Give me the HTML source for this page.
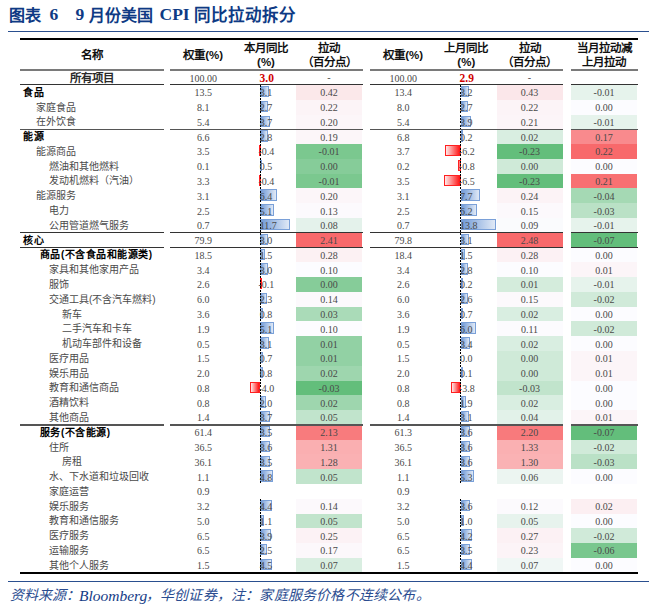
<!DOCTYPE html>
<html lang="zh-CN"><head><meta charset="utf-8"><style>
html,body{margin:0;padding:0;background:#fff;width:660px;height:606px;overflow:hidden}
body{position:relative}
div{position:absolute;box-sizing:border-box}
.t{white-space:nowrap}
.nm{font-family:"Liberation Sans",sans-serif;font-size:10px;color:#4a4a4a;line-height:14px}
.nb{font-weight:bold;color:#000;letter-spacing:0.5px}
.num{font-family:"Liberation Serif",serif;font-size:10px;color:#4a4a4a;line-height:14px;text-align:center;width:80px}
.numl{font-family:"Liberation Serif",serif;font-size:10px;color:#4a4a4a;line-height:14px}
.hd{font-family:"Liberation Sans",sans-serif;font-weight:bold;font-size:11.5px;color:#111;line-height:14.4px;text-align:center;width:100px}
.bar{border:1px solid #7aa0d8}
.nbar{border:1px solid #ff2020}
.ax{width:1px;background:repeating-linear-gradient(to bottom,#000 0,#000 2px,transparent 2px,transparent 3.3px)}
.tt{font-family:"Liberation Serif",serif;font-weight:bold;line-height:20px;color:#0e3a84}
</style></head><body>

<div class="tt t" style="left:9px;top:5.5px;font-size:16px">图表</div>
<div class="tt t" style="left:49.5px;top:4px;font-size:17.5px">6</div>
<div class="tt t" style="left:75.5px;top:4px;font-size:17.5px">9</div>
<div class="tt t" style="left:88.5px;top:5.5px;font-size:16px">月份美国</div>
<div class="tt t" style="left:159.5px;top:4px;font-size:17.5px">CPI</div>
<div class="tt t" style="left:193.5px;top:5.5px;font-size:16.5px">同比拉动拆分</div>
<div style="left:8px;top:31px;width:641px;height:1px;background:#2a4f8f"></div>
<div style="left:20px;top:38px;width:618px;height:2px;background:#000"></div>
<div class="hd t" style="left:42.00px;top:47.50px">名称</div>
<div class="hd t" style="left:153.20px;top:47.50px">权重(%)</div>
<div class="hd t" style="left:216.00px;top:40.50px">本月同比<br>(%)</div>
<div class="hd t" style="left:279.00px;top:40.50px">拉动<br>（百分点）</div>
<div class="hd t" style="left:353.20px;top:47.50px">权重(%)</div>
<div class="hd t" style="left:416.30px;top:40.50px">上月同比<br>(%)</div>
<div class="hd t" style="left:479.50px;top:40.50px">拉动<br>（百分点）</div>
<div class="hd t" style="left:554.00px;top:40.50px">当月拉动减<br>上月拉动</div>
<div style="left:296px;top:85px;width:66px;height:15px;background:#fbe8ea"></div>
<div style="left:496.5px;top:85px;width:66.5px;height:15px;background:#fbe7ea"></div>
<div style="left:571px;top:85px;width:66px;height:15px;background:#e6f3ec"></div>
<div style="left:296px;top:100px;width:66px;height:15px;background:#fcf4f7"></div>
<div style="left:496.5px;top:100px;width:66.5px;height:15px;background:#fcf4f7"></div>
<div style="left:571px;top:100px;width:66px;height:15px;background:#fcfcff"></div>
<div style="left:296px;top:115px;width:66px;height:14px;background:#fcf6f9"></div>
<div style="left:496.5px;top:115px;width:66.5px;height:14px;background:#fcf5f8"></div>
<div style="left:571px;top:115px;width:66px;height:14px;background:#e6f3ec"></div>
<div style="left:296px;top:129px;width:66px;height:15px;background:#fcf6f9"></div>
<div style="left:496.5px;top:129px;width:66.5px;height:15px;background:#d9eee1"></div>
<div style="left:571px;top:129px;width:66px;height:15px;background:#f98a8d"></div>
<div style="left:296px;top:144px;width:66px;height:15px;background:#7bc88f"></div>
<div style="left:496.5px;top:144px;width:66.5px;height:15px;background:#63be7b"></div>
<div style="left:571px;top:144px;width:66px;height:15px;background:#f8696b"></div>
<div style="left:296px;top:159px;width:66px;height:15px;background:#86cc99"></div>
<div style="left:496.5px;top:159px;width:66.5px;height:15px;background:#cfead8"></div>
<div style="left:571px;top:159px;width:66px;height:15px;background:#fcfcff"></div>
<div style="left:296px;top:174px;width:66px;height:14px;background:#7bc88f"></div>
<div style="left:496.5px;top:174px;width:66.5px;height:14px;background:#63be7b"></div>
<div style="left:571px;top:174px;width:66px;height:14px;background:#f87072"></div>
<div style="left:296px;top:188px;width:66px;height:15px;background:#fcf6f9"></div>
<div style="left:496.5px;top:188px;width:66.5px;height:15px;background:#fcf3f6"></div>
<div style="left:571px;top:188px;width:66px;height:15px;background:#a5d9b4"></div>
<div style="left:296px;top:203px;width:66px;height:15px;background:#fcfafd"></div>
<div style="left:496.5px;top:203px;width:66.5px;height:15px;background:#fcf9fc"></div>
<div style="left:571px;top:203px;width:66px;height:15px;background:#bae1c6"></div>
<div style="left:296px;top:218px;width:66px;height:15px;background:#e4f2eb"></div>
<div style="left:496.5px;top:218px;width:66.5px;height:15px;background:#fafbfd"></div>
<div style="left:571px;top:218px;width:66px;height:15px;background:#e6f3ec"></div>
<div style="left:296px;top:233px;width:66px;height:15px;background:#f8696b"></div>
<div style="left:496.5px;top:233px;width:66.5px;height:15px;background:#f8696b"></div>
<div style="left:571px;top:233px;width:66px;height:15px;background:#63be7b"></div>
<div style="left:296px;top:248px;width:66px;height:14px;background:#fcf1f3"></div>
<div style="left:496.5px;top:248px;width:66.5px;height:14px;background:#fcf1f4"></div>
<div style="left:571px;top:248px;width:66px;height:14px;background:#fcfcff"></div>
<div style="left:296px;top:262px;width:66px;height:15px;background:#fcfcff"></div>
<div style="left:496.5px;top:262px;width:66.5px;height:15px;background:#fcfcff"></div>
<div style="left:571px;top:262px;width:66px;height:15px;background:#fcf5f8"></div>
<div style="left:296px;top:277px;width:66px;height:15px;background:#86cc99"></div>
<div style="left:496.5px;top:277px;width:66.5px;height:15px;background:#d4ecdc"></div>
<div style="left:571px;top:277px;width:66px;height:15px;background:#e6f3ec"></div>
<div style="left:296px;top:292px;width:66px;height:15px;background:#fcf9fc"></div>
<div style="left:496.5px;top:292px;width:66.5px;height:15px;background:#fcf9fc"></div>
<div style="left:571px;top:292px;width:66px;height:15px;background:#d0ead9"></div>
<div style="left:296px;top:307px;width:66px;height:14px;background:#aadbb8"></div>
<div style="left:496.5px;top:307px;width:66.5px;height:14px;background:#d9eee1"></div>
<div style="left:571px;top:307px;width:66px;height:14px;background:#fcfcff"></div>
<div style="left:296px;top:321px;width:66px;height:15px;background:#fcfcff"></div>
<div style="left:496.5px;top:321px;width:66.5px;height:15px;background:#fcfbfe"></div>
<div style="left:571px;top:321px;width:66px;height:15px;background:#d0ead9"></div>
<div style="left:296px;top:336px;width:66px;height:15px;background:#92d1a4"></div>
<div style="left:496.5px;top:336px;width:66.5px;height:15px;background:#d9eee1"></div>
<div style="left:571px;top:336px;width:66px;height:15px;background:#fcfcff"></div>
<div style="left:296px;top:351px;width:66px;height:15px;background:#92d1a4"></div>
<div style="left:496.5px;top:351px;width:66.5px;height:15px;background:#cfead8"></div>
<div style="left:571px;top:351px;width:66px;height:15px;background:#fcf5f8"></div>
<div style="left:296px;top:366px;width:66px;height:15px;background:#9ed6ae"></div>
<div style="left:496.5px;top:366px;width:66.5px;height:15px;background:#cfead8"></div>
<div style="left:571px;top:366px;width:66px;height:15px;background:#fcf5f8"></div>
<div style="left:296px;top:381px;width:66px;height:14px;background:#63be7b"></div>
<div style="left:496.5px;top:381px;width:66.5px;height:14px;background:#c1e4cc"></div>
<div style="left:571px;top:381px;width:66px;height:14px;background:#fcfcff"></div>
<div style="left:296px;top:395px;width:66px;height:15px;background:#9ed6ae"></div>
<div style="left:496.5px;top:395px;width:66.5px;height:15px;background:#d9eee1"></div>
<div style="left:571px;top:395px;width:66px;height:15px;background:#fcfcff"></div>
<div style="left:296px;top:410px;width:66px;height:15px;background:#c1e4cc"></div>
<div style="left:496.5px;top:410px;width:66.5px;height:15px;background:#e2f2e9"></div>
<div style="left:571px;top:410px;width:66px;height:15px;background:#fcf5f8"></div>
<div style="left:296px;top:425px;width:66px;height:15px;background:#f87b7d"></div>
<div style="left:496.5px;top:425px;width:66.5px;height:15px;background:#f87a7c"></div>
<div style="left:571px;top:425px;width:66px;height:15px;background:#63be7b"></div>
<div style="left:296px;top:440px;width:66px;height:14px;background:#faafb1"></div>
<div style="left:496.5px;top:440px;width:66.5px;height:14px;background:#fab0b2"></div>
<div style="left:571px;top:440px;width:66px;height:14px;background:#d0ead9"></div>
<div style="left:296px;top:454px;width:66px;height:15px;background:#fab1b3"></div>
<div style="left:496.5px;top:454px;width:66.5px;height:15px;background:#fab2b4"></div>
<div style="left:571px;top:454px;width:66px;height:15px;background:#bae1c6"></div>
<div style="left:296px;top:469px;width:66px;height:15px;background:#c1e4cc"></div>
<div style="left:496.5px;top:469px;width:66.5px;height:15px;background:#ecf5f1"></div>
<div style="left:571px;top:469px;width:66px;height:15px;background:#fcfcff"></div>
<div style="left:296px;top:499px;width:66px;height:15px;background:#fcf9fc"></div>
<div style="left:496.5px;top:499px;width:66.5px;height:15px;background:#fcfafd"></div>
<div style="left:571px;top:499px;width:66px;height:15px;background:#fceff2"></div>
<div style="left:296px;top:514px;width:66px;height:14px;background:#c1e4cc"></div>
<div style="left:496.5px;top:514px;width:66.5px;height:14px;background:#e7f3ed"></div>
<div style="left:571px;top:514px;width:66px;height:14px;background:#fcfcff"></div>
<div style="left:296px;top:528px;width:66px;height:15px;background:#fcf2f5"></div>
<div style="left:496.5px;top:528px;width:66.5px;height:15px;background:#fcf1f4"></div>
<div style="left:571px;top:528px;width:66px;height:15px;background:#d0ead9"></div>
<div style="left:296px;top:543px;width:66px;height:15px;background:#fcf8fb"></div>
<div style="left:496.5px;top:543px;width:66.5px;height:15px;background:#fcf4f7"></div>
<div style="left:571px;top:543px;width:66px;height:15px;background:#79c78e"></div>
<div style="left:296px;top:558px;width:66px;height:15px;background:#d9eee1"></div>
<div style="left:496.5px;top:558px;width:66.5px;height:15px;background:#f0f7f5"></div>
<div style="left:571px;top:558px;width:66px;height:15px;background:#fcfcff"></div>
<div class="bar" style="left:260.30px;top:86.00px;width:8.25px;height:11.30px;background:linear-gradient(to right,#729bd7,#e0e9f6)"></div>
<div class="bar" style="left:460.60px;top:86.00px;width:8.50px;height:11.30px;background:linear-gradient(to right,#729bd7,#e0e9f6)"></div>
<div class="bar" style="left:260.30px;top:100.78px;width:7.25px;height:11.30px;background:linear-gradient(to right,#729bd7,#e0e9f6)"></div>
<div class="bar" style="left:460.60px;top:100.78px;width:7.25px;height:11.30px;background:linear-gradient(to right,#729bd7,#e0e9f6)"></div>
<div class="bar" style="left:260.30px;top:115.56px;width:9.75px;height:11.30px;background:linear-gradient(to right,#729bd7,#e0e9f6)"></div>
<div class="bar" style="left:460.60px;top:115.56px;width:10.25px;height:11.30px;background:linear-gradient(to right,#729bd7,#e0e9f6)"></div>
<div class="bar" style="left:260.30px;top:130.34px;width:7.50px;height:11.30px;background:linear-gradient(to right,#729bd7,#e0e9f6)"></div>
<div class="bar" style="left:460.60px;top:130.34px;width:1.00px;height:11.30px;background:linear-gradient(to right,#729bd7,#e0e9f6)"></div>
<div class="nbar" style="left:258.80px;top:145.12px;width:1.50px;height:11.30px;background:linear-gradient(to left,#ff1010,#ffe8e8)"></div>
<div class="nbar" style="left:444.60px;top:145.12px;width:16.00px;height:11.30px;background:linear-gradient(to left,#ff1010,#ffe8e8)"></div>
<div class="bar" style="left:260.30px;top:159.90px;width:1.75px;height:11.30px;background:linear-gradient(to right,#729bd7,#e0e9f6)"></div>
<div class="nbar" style="left:458.10px;top:159.90px;width:2.50px;height:11.30px;background:linear-gradient(to left,#ff1010,#ffe8e8)"></div>
<div class="nbar" style="left:258.80px;top:174.68px;width:1.50px;height:11.30px;background:linear-gradient(to left,#ff1010,#ffe8e8)"></div>
<div class="nbar" style="left:443.85px;top:174.68px;width:16.75px;height:11.30px;background:linear-gradient(to left,#ff1010,#ffe8e8)"></div>
<div class="bar" style="left:260.30px;top:189.46px;width:16.50px;height:11.30px;background:linear-gradient(to right,#729bd7,#e0e9f6)"></div>
<div class="bar" style="left:460.60px;top:189.46px;width:19.75px;height:11.30px;background:linear-gradient(to right,#729bd7,#e0e9f6)"></div>
<div class="bar" style="left:260.30px;top:204.24px;width:13.25px;height:11.30px;background:linear-gradient(to right,#729bd7,#e0e9f6)"></div>
<div class="bar" style="left:460.60px;top:204.24px;width:16.00px;height:11.30px;background:linear-gradient(to right,#729bd7,#e0e9f6)"></div>
<div class="bar" style="left:260.30px;top:219.02px;width:29.75px;height:11.30px;background:linear-gradient(to right,#729bd7,#e0e9f6)"></div>
<div class="bar" style="left:460.60px;top:219.02px;width:35.00px;height:11.30px;background:linear-gradient(to right,#729bd7,#e0e9f6)"></div>
<div class="bar" style="left:260.30px;top:233.80px;width:8.00px;height:11.30px;background:linear-gradient(to right,#729bd7,#e0e9f6)"></div>
<div class="bar" style="left:460.60px;top:233.80px;width:8.25px;height:11.30px;background:linear-gradient(to right,#729bd7,#e0e9f6)"></div>
<div class="bar" style="left:260.30px;top:248.58px;width:4.25px;height:11.30px;background:linear-gradient(to right,#729bd7,#e0e9f6)"></div>
<div class="bar" style="left:460.60px;top:248.58px;width:4.25px;height:11.30px;background:linear-gradient(to right,#729bd7,#e0e9f6)"></div>
<div class="bar" style="left:260.30px;top:263.36px;width:8.00px;height:11.30px;background:linear-gradient(to right,#729bd7,#e0e9f6)"></div>
<div class="bar" style="left:460.60px;top:263.36px;width:7.50px;height:11.30px;background:linear-gradient(to right,#729bd7,#e0e9f6)"></div>
<div class="nbar" style="left:259.55px;top:278.14px;width:1.00px;height:11.30px;background:linear-gradient(to left,#ff1010,#ffe8e8)"></div>
<div class="bar" style="left:460.60px;top:278.14px;width:1.00px;height:11.30px;background:linear-gradient(to right,#729bd7,#e0e9f6)"></div>
<div class="bar" style="left:260.30px;top:292.92px;width:6.25px;height:11.30px;background:linear-gradient(to right,#729bd7,#e0e9f6)"></div>
<div class="bar" style="left:460.60px;top:292.92px;width:7.00px;height:11.30px;background:linear-gradient(to right,#729bd7,#e0e9f6)"></div>
<div class="bar" style="left:260.30px;top:307.70px;width:2.50px;height:11.30px;background:linear-gradient(to right,#729bd7,#e0e9f6)"></div>
<div class="bar" style="left:460.60px;top:307.70px;width:2.25px;height:11.30px;background:linear-gradient(to right,#729bd7,#e0e9f6)"></div>
<div class="bar" style="left:260.30px;top:322.48px;width:13.25px;height:11.30px;background:linear-gradient(to right,#729bd7,#e0e9f6)"></div>
<div class="bar" style="left:460.60px;top:322.48px;width:15.50px;height:11.30px;background:linear-gradient(to right,#729bd7,#e0e9f6)"></div>
<div class="bar" style="left:260.30px;top:337.26px;width:8.25px;height:11.30px;background:linear-gradient(to right,#729bd7,#e0e9f6)"></div>
<div class="bar" style="left:460.60px;top:337.26px;width:9.00px;height:11.30px;background:linear-gradient(to right,#729bd7,#e0e9f6)"></div>
<div class="bar" style="left:260.30px;top:352.04px;width:2.25px;height:11.30px;background:linear-gradient(to right,#729bd7,#e0e9f6)"></div>
<div class="bar" style="left:260.30px;top:366.82px;width:2.50px;height:11.30px;background:linear-gradient(to right,#729bd7,#e0e9f6)"></div>
<div class="bar" style="left:460.60px;top:366.82px;width:1.00px;height:11.30px;background:linear-gradient(to right,#729bd7,#e0e9f6)"></div>
<div class="nbar" style="left:249.80px;top:381.60px;width:10.50px;height:11.30px;background:linear-gradient(to left,#ff1010,#ffe8e8)"></div>
<div class="nbar" style="left:450.60px;top:381.60px;width:10.00px;height:11.30px;background:linear-gradient(to left,#ff1010,#ffe8e8)"></div>
<div class="bar" style="left:260.30px;top:396.38px;width:5.50px;height:11.30px;background:linear-gradient(to right,#729bd7,#e0e9f6)"></div>
<div class="bar" style="left:460.60px;top:396.38px;width:5.25px;height:11.30px;background:linear-gradient(to right,#729bd7,#e0e9f6)"></div>
<div class="bar" style="left:260.30px;top:411.16px;width:9.75px;height:11.30px;background:linear-gradient(to right,#729bd7,#e0e9f6)"></div>
<div class="bar" style="left:460.60px;top:411.16px;width:8.25px;height:11.30px;background:linear-gradient(to right,#729bd7,#e0e9f6)"></div>
<div class="bar" style="left:260.30px;top:425.94px;width:9.25px;height:11.30px;background:linear-gradient(to right,#729bd7,#e0e9f6)"></div>
<div class="bar" style="left:460.60px;top:425.94px;width:9.50px;height:11.30px;background:linear-gradient(to right,#729bd7,#e0e9f6)"></div>
<div class="bar" style="left:260.30px;top:440.72px;width:9.50px;height:11.30px;background:linear-gradient(to right,#729bd7,#e0e9f6)"></div>
<div class="bar" style="left:460.60px;top:440.72px;width:9.50px;height:11.30px;background:linear-gradient(to right,#729bd7,#e0e9f6)"></div>
<div class="bar" style="left:260.30px;top:455.50px;width:9.25px;height:11.30px;background:linear-gradient(to right,#729bd7,#e0e9f6)"></div>
<div class="bar" style="left:460.60px;top:455.50px;width:9.50px;height:11.30px;background:linear-gradient(to right,#729bd7,#e0e9f6)"></div>
<div class="bar" style="left:260.30px;top:470.28px;width:12.50px;height:11.30px;background:linear-gradient(to right,#729bd7,#e0e9f6)"></div>
<div class="bar" style="left:460.60px;top:470.28px;width:13.75px;height:11.30px;background:linear-gradient(to right,#729bd7,#e0e9f6)"></div>
<div class="bar" style="left:260.30px;top:499.84px;width:11.50px;height:11.30px;background:linear-gradient(to right,#729bd7,#e0e9f6)"></div>
<div class="bar" style="left:460.60px;top:499.84px;width:9.50px;height:11.30px;background:linear-gradient(to right,#729bd7,#e0e9f6)"></div>
<div class="bar" style="left:260.30px;top:514.62px;width:3.25px;height:11.30px;background:linear-gradient(to right,#729bd7,#e0e9f6)"></div>
<div class="bar" style="left:460.60px;top:514.62px;width:3.00px;height:11.30px;background:linear-gradient(to right,#729bd7,#e0e9f6)"></div>
<div class="bar" style="left:260.30px;top:529.40px;width:10.25px;height:11.30px;background:linear-gradient(to right,#729bd7,#e0e9f6)"></div>
<div class="bar" style="left:460.60px;top:529.40px;width:11.00px;height:11.30px;background:linear-gradient(to right,#729bd7,#e0e9f6)"></div>
<div class="bar" style="left:260.30px;top:544.18px;width:6.75px;height:11.30px;background:linear-gradient(to right,#729bd7,#e0e9f6)"></div>
<div class="bar" style="left:460.60px;top:544.18px;width:9.25px;height:11.30px;background:linear-gradient(to right,#729bd7,#e0e9f6)"></div>
<div class="bar" style="left:260.30px;top:558.96px;width:11.75px;height:11.30px;background:linear-gradient(to right,#729bd7,#e0e9f6)"></div>
<div class="bar" style="left:460.60px;top:558.96px;width:11.50px;height:11.30px;background:linear-gradient(to right,#729bd7,#e0e9f6)"></div>
<div class="ax" style="left:259.80px;top:85.00px;height:399.06px"></div>
<div class="ax" style="left:259.80px;top:498.84px;height:73.90px"></div>
<div class="ax" style="left:460.10px;top:85.00px;height:399.06px"></div>
<div class="ax" style="left:460.10px;top:498.84px;height:73.90px"></div>
<div style="left:20px;top:69px;width:144px;height:2px;background:#7a7a7a"></div>
<div style="left:169.5px;top:69px;width:193.0px;height:2px;background:#7a7a7a"></div>
<div style="left:370px;top:69px;width:193px;height:2px;background:#7a7a7a"></div>
<div style="left:571px;top:69px;width:67px;height:2px;background:#7a7a7a"></div>
<div style="left:20px;top:84px;width:144px;height:1px;background:#333"></div>
<div style="left:169.5px;top:84px;width:193.0px;height:1px;background:#333"></div>
<div style="left:370px;top:84px;width:193px;height:1px;background:#333"></div>
<div style="left:571px;top:84px;width:67px;height:1px;background:#333"></div>
<div style="left:20px;top:128.5px;width:144px;height:1.5px;background:#555"></div>
<div style="left:169.5px;top:128.5px;width:193.0px;height:1.5px;background:#555"></div>
<div style="left:370px;top:128.5px;width:193px;height:1.5px;background:#555"></div>
<div style="left:571px;top:128.5px;width:67px;height:1.5px;background:#555"></div>
<div style="left:20px;top:232.3px;width:144px;height:1px;background:#333"></div>
<div style="left:169.5px;top:232.3px;width:193.0px;height:1px;background:#333"></div>
<div style="left:370px;top:232.3px;width:193px;height:1px;background:#333"></div>
<div style="left:571px;top:232.3px;width:67px;height:1px;background:#333"></div>
<div style="left:20px;top:247.1px;width:144px;height:1px;background:#333"></div>
<div style="left:169.5px;top:247.1px;width:193.0px;height:1px;background:#333"></div>
<div style="left:370px;top:247.1px;width:193px;height:1px;background:#333"></div>
<div style="left:571px;top:247.1px;width:67px;height:1px;background:#333"></div>
<div style="left:20px;top:424.2px;width:144px;height:1.5px;background:#555"></div>
<div style="left:169.5px;top:424.2px;width:193.0px;height:1.5px;background:#555"></div>
<div style="left:370px;top:424.2px;width:193px;height:1.5px;background:#555"></div>
<div style="left:571px;top:424.2px;width:67px;height:1.5px;background:#555"></div>
<div style="left:20px;top:572px;width:618px;height:2px;background:#000"></div>
<div class="nm nb t" style="left:20px;top:70.80px;width:144px;text-align:center;font-size:11.5px;font-weight:bold;color:#2a2a2a;letter-spacing:0.2px">所有项目</div>
<div class="num t" style="left:163.20px;top:72.10px;">100.00</div>
<div class="num t" style="left:363.20px;top:72.10px;">100.00</div>
<div class="num t" style="left:226.70px;top:70.80px;font-weight:bold;color:#d00000;font-size:11.5px">3.0</div>
<div class="num t" style="left:426.70px;top:70.80px;font-weight:bold;color:#d00000;font-size:11.5px">2.9</div>
<div class="num t" style="left:289.00px;top:70.80px;">-</div>
<div class="num t" style="left:489.50px;top:70.80px;">-</div>
<div class="nm t nb" style="left:23.00px;top:85.80px">食品</div>
<div class="num t" style="left:163.20px;top:86.30px;">13.5</div>
<div class="num t" style="left:363.20px;top:86.30px;">13.4</div>
<div class="numl t" style="left:259.70px;top:86.30px">3.1</div>
<div class="numl t" style="left:460.00px;top:86.30px">3.2</div>
<div class="num t" style="left:289.00px;top:86.30px;">0.42</div>
<div class="num t" style="left:489.50px;top:86.30px;">0.43</div>
<div class="num t" style="left:564.00px;top:86.30px;">-0.01</div>
<div class="nm t" style="left:36.00px;top:100.58px">家庭食品</div>
<div class="num t" style="left:163.20px;top:101.08px;">8.1</div>
<div class="num t" style="left:363.20px;top:101.08px;">8.0</div>
<div class="numl t" style="left:259.70px;top:101.08px">2.7</div>
<div class="numl t" style="left:460.00px;top:101.08px">2.7</div>
<div class="num t" style="left:289.00px;top:101.08px;">0.22</div>
<div class="num t" style="left:489.50px;top:101.08px;">0.22</div>
<div class="num t" style="left:564.00px;top:101.08px;">0.00</div>
<div class="nm t" style="left:36.00px;top:115.36px">在外饮食</div>
<div class="num t" style="left:163.20px;top:115.86px;">5.4</div>
<div class="num t" style="left:363.20px;top:115.86px;">5.4</div>
<div class="numl t" style="left:259.70px;top:115.86px">3.7</div>
<div class="numl t" style="left:460.00px;top:115.86px">3.9</div>
<div class="num t" style="left:289.00px;top:115.86px;">0.20</div>
<div class="num t" style="left:489.50px;top:115.86px;">0.21</div>
<div class="num t" style="left:564.00px;top:115.86px;">-0.01</div>
<div class="nm t nb" style="left:23.00px;top:130.14px">能源</div>
<div class="num t" style="left:163.20px;top:130.64px;">6.6</div>
<div class="num t" style="left:363.20px;top:130.64px;">6.8</div>
<div class="numl t" style="left:259.70px;top:130.64px">2.8</div>
<div class="numl t" style="left:460.00px;top:130.64px">0.2</div>
<div class="num t" style="left:289.00px;top:130.64px;">0.19</div>
<div class="num t" style="left:489.50px;top:130.64px;">0.02</div>
<div class="num t" style="left:564.00px;top:130.64px;">0.17</div>
<div class="nm t" style="left:36.00px;top:144.92px">能源商品</div>
<div class="num t" style="left:163.20px;top:145.42px;">3.5</div>
<div class="num t" style="left:363.20px;top:145.42px;">3.7</div>
<div class="numl t" style="left:258.50px;top:145.42px">-0.4</div>
<div class="numl t" style="left:458.80px;top:145.42px">-6.2</div>
<div class="num t" style="left:289.00px;top:145.42px;">-0.01</div>
<div class="num t" style="left:489.50px;top:145.42px;">-0.23</div>
<div class="num t" style="left:564.00px;top:145.42px;">0.22</div>
<div class="nm t" style="left:49.00px;top:159.70px">燃油和其他燃料</div>
<div class="num t" style="left:163.20px;top:160.20px;">0.1</div>
<div class="num t" style="left:363.20px;top:160.20px;">0.2</div>
<div class="numl t" style="left:259.70px;top:160.20px">0.5</div>
<div class="numl t" style="left:458.80px;top:160.20px">-0.8</div>
<div class="num t" style="left:289.00px;top:160.20px;">0.00</div>
<div class="num t" style="left:489.50px;top:160.20px;">0.00</div>
<div class="num t" style="left:564.00px;top:160.20px;">0.00</div>
<div class="nm t" style="left:49.00px;top:174.48px">发动机燃料（汽油）</div>
<div class="num t" style="left:163.20px;top:174.98px;">3.3</div>
<div class="num t" style="left:363.20px;top:174.98px;">3.5</div>
<div class="numl t" style="left:258.50px;top:174.98px">-0.4</div>
<div class="numl t" style="left:458.80px;top:174.98px">-6.5</div>
<div class="num t" style="left:289.00px;top:174.98px;">-0.01</div>
<div class="num t" style="left:489.50px;top:174.98px;">-0.23</div>
<div class="num t" style="left:564.00px;top:174.98px;">0.21</div>
<div class="nm t" style="left:36.00px;top:189.26px">能源服务</div>
<div class="num t" style="left:163.20px;top:189.76px;">3.1</div>
<div class="num t" style="left:363.20px;top:189.76px;">3.1</div>
<div class="numl t" style="left:259.70px;top:189.76px">6.4</div>
<div class="numl t" style="left:460.00px;top:189.76px">7.7</div>
<div class="num t" style="left:289.00px;top:189.76px;">0.20</div>
<div class="num t" style="left:489.50px;top:189.76px;">0.24</div>
<div class="num t" style="left:564.00px;top:189.76px;">-0.04</div>
<div class="nm t" style="left:49.00px;top:204.04px">电力</div>
<div class="num t" style="left:163.20px;top:204.54px;">2.5</div>
<div class="num t" style="left:363.20px;top:204.54px;">2.5</div>
<div class="numl t" style="left:259.70px;top:204.54px">5.1</div>
<div class="numl t" style="left:460.00px;top:204.54px">6.2</div>
<div class="num t" style="left:289.00px;top:204.54px;">0.13</div>
<div class="num t" style="left:489.50px;top:204.54px;">0.15</div>
<div class="num t" style="left:564.00px;top:204.54px;">-0.03</div>
<div class="nm t" style="left:49.00px;top:218.82px">公用管道燃气服务</div>
<div class="num t" style="left:163.20px;top:219.32px;">0.7</div>
<div class="num t" style="left:363.20px;top:219.32px;">0.7</div>
<div class="numl t" style="left:259.70px;top:219.32px">11.7</div>
<div class="numl t" style="left:460.00px;top:219.32px">13.8</div>
<div class="num t" style="left:289.00px;top:219.32px;">0.08</div>
<div class="num t" style="left:489.50px;top:219.32px;">0.09</div>
<div class="num t" style="left:564.00px;top:219.32px;">-0.01</div>
<div class="nm t nb" style="left:23.00px;top:233.60px">核心</div>
<div class="num t" style="left:163.20px;top:234.10px;">79.9</div>
<div class="num t" style="left:363.20px;top:234.10px;">79.8</div>
<div class="numl t" style="left:259.70px;top:234.10px">3.0</div>
<div class="numl t" style="left:460.00px;top:234.10px">3.1</div>
<div class="num t" style="left:289.00px;top:234.10px;">2.41</div>
<div class="num t" style="left:489.50px;top:234.10px;">2.48</div>
<div class="num t" style="left:564.00px;top:234.10px;">-0.07</div>
<div class="nm t nb" style="left:39.90px;top:248.38px">商品(不含食品和能源类)</div>
<div class="num t" style="left:163.20px;top:248.88px;">18.5</div>
<div class="num t" style="left:363.20px;top:248.88px;">18.4</div>
<div class="numl t" style="left:259.70px;top:248.88px">1.5</div>
<div class="numl t" style="left:460.00px;top:248.88px">1.5</div>
<div class="num t" style="left:289.00px;top:248.88px;">0.28</div>
<div class="num t" style="left:489.50px;top:248.88px;">0.28</div>
<div class="num t" style="left:564.00px;top:248.88px;">0.00</div>
<div class="nm t" style="left:49.00px;top:263.16px">家具和其他家用产品</div>
<div class="num t" style="left:163.20px;top:263.66px;">3.4</div>
<div class="num t" style="left:363.20px;top:263.66px;">3.4</div>
<div class="numl t" style="left:259.70px;top:263.66px">3.0</div>
<div class="numl t" style="left:460.00px;top:263.66px">2.8</div>
<div class="num t" style="left:289.00px;top:263.66px;">0.10</div>
<div class="num t" style="left:489.50px;top:263.66px;">0.10</div>
<div class="num t" style="left:564.00px;top:263.66px;">0.01</div>
<div class="nm t" style="left:49.00px;top:277.94px">服饰</div>
<div class="num t" style="left:163.20px;top:278.44px;">2.6</div>
<div class="num t" style="left:363.20px;top:278.44px;">2.6</div>
<div class="numl t" style="left:258.50px;top:278.44px">-0.1</div>
<div class="numl t" style="left:460.00px;top:278.44px">0.2</div>
<div class="num t" style="left:289.00px;top:278.44px;">0.00</div>
<div class="num t" style="left:489.50px;top:278.44px;">0.01</div>
<div class="num t" style="left:564.00px;top:278.44px;">-0.01</div>
<div class="nm t" style="left:49.00px;top:292.72px">交通工具(不含汽车燃料)</div>
<div class="num t" style="left:163.20px;top:293.22px;">6.0</div>
<div class="num t" style="left:363.20px;top:293.22px;">6.0</div>
<div class="numl t" style="left:259.70px;top:293.22px">2.3</div>
<div class="numl t" style="left:460.00px;top:293.22px">2.6</div>
<div class="num t" style="left:289.00px;top:293.22px;">0.14</div>
<div class="num t" style="left:489.50px;top:293.22px;">0.15</div>
<div class="num t" style="left:564.00px;top:293.22px;">-0.02</div>
<div class="nm t" style="left:62.00px;top:307.50px">新车</div>
<div class="num t" style="left:163.20px;top:308.00px;">3.6</div>
<div class="num t" style="left:363.20px;top:308.00px;">3.6</div>
<div class="numl t" style="left:259.70px;top:308.00px">0.8</div>
<div class="numl t" style="left:460.00px;top:308.00px">0.7</div>
<div class="num t" style="left:289.00px;top:308.00px;">0.03</div>
<div class="num t" style="left:489.50px;top:308.00px;">0.02</div>
<div class="num t" style="left:564.00px;top:308.00px;">0.00</div>
<div class="nm t" style="left:62.00px;top:322.28px">二手汽车和卡车</div>
<div class="num t" style="left:163.20px;top:322.78px;">1.9</div>
<div class="num t" style="left:363.20px;top:322.78px;">1.9</div>
<div class="numl t" style="left:259.70px;top:322.78px">5.1</div>
<div class="numl t" style="left:460.00px;top:322.78px">6.0</div>
<div class="num t" style="left:289.00px;top:322.78px;">0.10</div>
<div class="num t" style="left:489.50px;top:322.78px;">0.11</div>
<div class="num t" style="left:564.00px;top:322.78px;">-0.02</div>
<div class="nm t" style="left:62.00px;top:337.06px">机动车部件和设备</div>
<div class="num t" style="left:163.20px;top:337.56px;">0.5</div>
<div class="num t" style="left:363.20px;top:337.56px;">0.5</div>
<div class="numl t" style="left:259.70px;top:337.56px">3.1</div>
<div class="numl t" style="left:460.00px;top:337.56px">3.4</div>
<div class="num t" style="left:289.00px;top:337.56px;">0.01</div>
<div class="num t" style="left:489.50px;top:337.56px;">0.02</div>
<div class="num t" style="left:564.00px;top:337.56px;">0.00</div>
<div class="nm t" style="left:49.00px;top:351.84px">医疗用品</div>
<div class="num t" style="left:163.20px;top:352.34px;">1.5</div>
<div class="num t" style="left:363.20px;top:352.34px;">1.5</div>
<div class="numl t" style="left:259.70px;top:352.34px">0.7</div>
<div class="numl t" style="left:460.00px;top:352.34px">0.0</div>
<div class="num t" style="left:289.00px;top:352.34px;">0.01</div>
<div class="num t" style="left:489.50px;top:352.34px;">0.00</div>
<div class="num t" style="left:564.00px;top:352.34px;">0.01</div>
<div class="nm t" style="left:49.00px;top:366.62px">娱乐用品</div>
<div class="num t" style="left:163.20px;top:367.12px;">2.0</div>
<div class="num t" style="left:363.20px;top:367.12px;">2.0</div>
<div class="numl t" style="left:259.70px;top:367.12px">0.8</div>
<div class="numl t" style="left:460.00px;top:367.12px">0.1</div>
<div class="num t" style="left:289.00px;top:367.12px;">0.02</div>
<div class="num t" style="left:489.50px;top:367.12px;">0.00</div>
<div class="num t" style="left:564.00px;top:367.12px;">0.01</div>
<div class="nm t" style="left:49.00px;top:381.40px">教育和通信商品</div>
<div class="num t" style="left:163.20px;top:381.90px;">0.8</div>
<div class="num t" style="left:363.20px;top:381.90px;">0.8</div>
<div class="numl t" style="left:258.50px;top:381.90px">-4.0</div>
<div class="numl t" style="left:458.80px;top:381.90px">-3.8</div>
<div class="num t" style="left:289.00px;top:381.90px;">-0.03</div>
<div class="num t" style="left:489.50px;top:381.90px;">-0.03</div>
<div class="num t" style="left:564.00px;top:381.90px;">0.00</div>
<div class="nm t" style="left:49.00px;top:396.18px">酒精饮料</div>
<div class="num t" style="left:163.20px;top:396.68px;">0.8</div>
<div class="num t" style="left:363.20px;top:396.68px;">0.8</div>
<div class="numl t" style="left:259.70px;top:396.68px">2.0</div>
<div class="numl t" style="left:460.00px;top:396.68px">1.9</div>
<div class="num t" style="left:289.00px;top:396.68px;">0.02</div>
<div class="num t" style="left:489.50px;top:396.68px;">0.02</div>
<div class="num t" style="left:564.00px;top:396.68px;">0.00</div>
<div class="nm t" style="left:49.00px;top:410.96px">其他商品</div>
<div class="num t" style="left:163.20px;top:411.46px;">1.4</div>
<div class="num t" style="left:363.20px;top:411.46px;">1.4</div>
<div class="numl t" style="left:259.70px;top:411.46px">3.7</div>
<div class="numl t" style="left:460.00px;top:411.46px">3.1</div>
<div class="num t" style="left:289.00px;top:411.46px;">0.05</div>
<div class="num t" style="left:489.50px;top:411.46px;">0.04</div>
<div class="num t" style="left:564.00px;top:411.46px;">0.01</div>
<div class="nm t nb" style="left:39.90px;top:425.74px">服务(不含能源)</div>
<div class="num t" style="left:163.20px;top:426.24px;">61.4</div>
<div class="num t" style="left:363.20px;top:426.24px;">61.3</div>
<div class="numl t" style="left:259.70px;top:426.24px">3.5</div>
<div class="numl t" style="left:460.00px;top:426.24px">3.6</div>
<div class="num t" style="left:289.00px;top:426.24px;">2.13</div>
<div class="num t" style="left:489.50px;top:426.24px;">2.20</div>
<div class="num t" style="left:564.00px;top:426.24px;">-0.07</div>
<div class="nm t" style="left:49.00px;top:440.52px">住所</div>
<div class="num t" style="left:163.20px;top:441.02px;">36.5</div>
<div class="num t" style="left:363.20px;top:441.02px;">36.5</div>
<div class="numl t" style="left:259.70px;top:441.02px">3.6</div>
<div class="numl t" style="left:460.00px;top:441.02px">3.6</div>
<div class="num t" style="left:289.00px;top:441.02px;">1.31</div>
<div class="num t" style="left:489.50px;top:441.02px;">1.33</div>
<div class="num t" style="left:564.00px;top:441.02px;">-0.02</div>
<div class="nm t" style="left:62.00px;top:455.30px">房租</div>
<div class="num t" style="left:163.20px;top:455.80px;">36.1</div>
<div class="num t" style="left:363.20px;top:455.80px;">36.1</div>
<div class="numl t" style="left:259.70px;top:455.80px">3.5</div>
<div class="numl t" style="left:460.00px;top:455.80px">3.6</div>
<div class="num t" style="left:289.00px;top:455.80px;">1.28</div>
<div class="num t" style="left:489.50px;top:455.80px;">1.30</div>
<div class="num t" style="left:564.00px;top:455.80px;">-0.03</div>
<div class="nm t" style="left:49.00px;top:470.08px">水、下水道和垃圾回收</div>
<div class="num t" style="left:163.20px;top:470.58px;">1.1</div>
<div class="num t" style="left:363.20px;top:470.58px;">1.1</div>
<div class="numl t" style="left:259.70px;top:470.58px">4.8</div>
<div class="numl t" style="left:460.00px;top:470.58px">5.3</div>
<div class="num t" style="left:289.00px;top:470.58px;">0.05</div>
<div class="num t" style="left:489.50px;top:470.58px;">0.06</div>
<div class="num t" style="left:564.00px;top:470.58px;">0.00</div>
<div class="nm t" style="left:49.00px;top:484.86px">家庭运营</div>
<div class="num t" style="left:163.20px;top:485.36px;">0.9</div>
<div class="num t" style="left:363.20px;top:485.36px;">0.9</div>
<div class="nm t" style="left:49.00px;top:499.64px">娱乐服务</div>
<div class="num t" style="left:163.20px;top:500.14px;">3.2</div>
<div class="num t" style="left:363.20px;top:500.14px;">3.2</div>
<div class="numl t" style="left:259.70px;top:500.14px">4.4</div>
<div class="numl t" style="left:460.00px;top:500.14px">3.6</div>
<div class="num t" style="left:289.00px;top:500.14px;">0.14</div>
<div class="num t" style="left:489.50px;top:500.14px;">0.12</div>
<div class="num t" style="left:564.00px;top:500.14px;">0.02</div>
<div class="nm t" style="left:49.00px;top:514.42px">教育和通信服务</div>
<div class="num t" style="left:163.20px;top:514.92px;">5.0</div>
<div class="num t" style="left:363.20px;top:514.92px;">5.0</div>
<div class="numl t" style="left:259.70px;top:514.92px">1.1</div>
<div class="numl t" style="left:460.00px;top:514.92px">1.0</div>
<div class="num t" style="left:289.00px;top:514.92px;">0.05</div>
<div class="num t" style="left:489.50px;top:514.92px;">0.05</div>
<div class="num t" style="left:564.00px;top:514.92px;">0.00</div>
<div class="nm t" style="left:49.00px;top:529.20px">医疗服务</div>
<div class="num t" style="left:163.20px;top:529.70px;">6.5</div>
<div class="num t" style="left:363.20px;top:529.70px;">6.5</div>
<div class="numl t" style="left:259.70px;top:529.70px">3.9</div>
<div class="numl t" style="left:460.00px;top:529.70px">4.2</div>
<div class="num t" style="left:289.00px;top:529.70px;">0.25</div>
<div class="num t" style="left:489.50px;top:529.70px;">0.27</div>
<div class="num t" style="left:564.00px;top:529.70px;">-0.02</div>
<div class="nm t" style="left:49.00px;top:543.98px">运输服务</div>
<div class="num t" style="left:163.20px;top:544.48px;">6.5</div>
<div class="num t" style="left:363.20px;top:544.48px;">6.5</div>
<div class="numl t" style="left:259.70px;top:544.48px">2.5</div>
<div class="numl t" style="left:460.00px;top:544.48px">3.5</div>
<div class="num t" style="left:289.00px;top:544.48px;">0.17</div>
<div class="num t" style="left:489.50px;top:544.48px;">0.23</div>
<div class="num t" style="left:564.00px;top:544.48px;">-0.06</div>
<div class="nm t" style="left:49.00px;top:558.76px">其他个人服务</div>
<div class="num t" style="left:163.20px;top:559.26px;">1.5</div>
<div class="num t" style="left:363.20px;top:559.26px;">1.5</div>
<div class="numl t" style="left:259.70px;top:559.26px">4.5</div>
<div class="numl t" style="left:460.00px;top:559.26px">4.4</div>
<div class="num t" style="left:289.00px;top:559.26px;">0.07</div>
<div class="num t" style="left:489.50px;top:559.26px;">0.07</div>
<div class="num t" style="left:564.00px;top:559.26px;">0.00</div>
<div style="left:8px;top:581px;width:641px;height:1px;background:#2a4f8f"></div>
<div class="t" style="left:10px;font-family:'Liberation Serif',serif;font-style:italic;line-height:17px;color:#143c86;top:587px;font-size:14px;color:#2a4c90">资料来源：</div>
<div class="t" style="left:79px;font-family:'Liberation Serif',serif;font-style:italic;line-height:17px;color:#143c86;top:587px;font-size:15.5px">Bloomberg</div>
<div class="t" style="left:145.8px;font-family:'Liberation Serif',serif;font-style:italic;line-height:17px;color:#143c86;top:587px;font-size:14px;letter-spacing:0.2px;color:#2a4c90">，华创证券，注：家庭服务价格不连续公布。</div>
</body></html>
